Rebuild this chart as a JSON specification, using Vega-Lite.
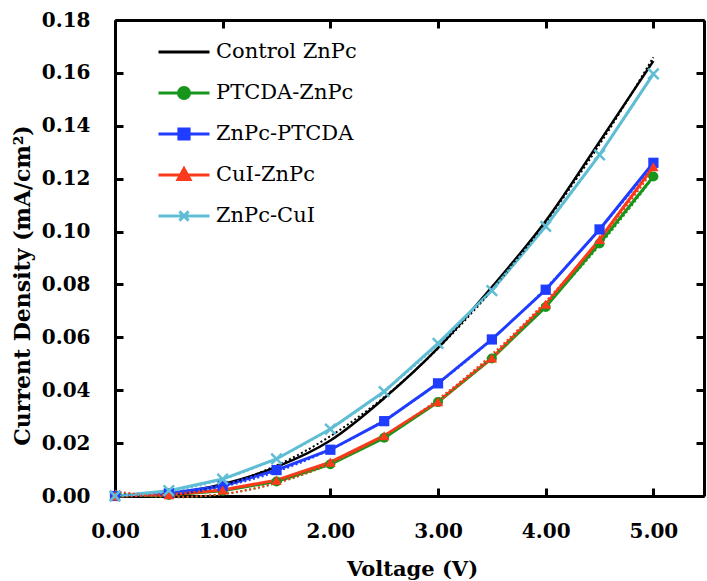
{
  "$schema": "https://vega.github.io/schema/vega-lite/v6.json",
  "width": 589,
  "height": 476,
  "autosize": "none",
  "padding": {"left": 115, "top": 20, "right": 3, "bottom": 85},
  "background": "white",
  "config": {
    "view": {"stroke": null},
    "font": "DejaVu Serif",
    "axis": {
      "grid": false,
      "domainColor": "black",
      "domainWidth": 3,
      "tickColor": "black",
      "tickWidth": 3,
      "tickSize": -8,
      "labelFlush": false,
      "labelColor": "black",
      "titleColor": "black",
      "labelFont": "DejaVu Serif",
      "titleFont": "DejaVu Serif",
      "labelFontWeight": "bold",
      "titleFontWeight": "bold",
      "titleLimit": 1000
    }
  },
  "data": {
    "values": [
      {"series": "Control ZnPc", "voltage": 0.0, "current": 0.0},
      {"series": "Control ZnPc", "voltage": 0.5, "current": 0.001},
      {"series": "Control ZnPc", "voltage": 1.0, "current": 0.0045},
      {"series": "Control ZnPc", "voltage": 1.5, "current": 0.011},
      {"series": "Control ZnPc", "voltage": 2.0, "current": 0.021},
      {"series": "Control ZnPc", "voltage": 2.5, "current": 0.037},
      {"series": "Control ZnPc", "voltage": 3.0, "current": 0.056},
      {"series": "Control ZnPc", "voltage": 3.5, "current": 0.079},
      {"series": "Control ZnPc", "voltage": 4.0, "current": 0.104},
      {"series": "Control ZnPc", "voltage": 4.5, "current": 0.134},
      {"series": "Control ZnPc", "voltage": 5.0, "current": 0.1645},
      {"series": "PTCDA-ZnPc", "voltage": 0.0, "current": 0.0},
      {"series": "PTCDA-ZnPc", "voltage": 0.5, "current": 0.0004},
      {"series": "PTCDA-ZnPc", "voltage": 1.0, "current": 0.002},
      {"series": "PTCDA-ZnPc", "voltage": 1.5, "current": 0.0055},
      {"series": "PTCDA-ZnPc", "voltage": 2.0, "current": 0.012},
      {"series": "PTCDA-ZnPc", "voltage": 2.5, "current": 0.022},
      {"series": "PTCDA-ZnPc", "voltage": 3.0, "current": 0.0355},
      {"series": "PTCDA-ZnPc", "voltage": 3.5, "current": 0.052},
      {"series": "PTCDA-ZnPc", "voltage": 4.0, "current": 0.0715},
      {"series": "PTCDA-ZnPc", "voltage": 4.5, "current": 0.0955},
      {"series": "PTCDA-ZnPc", "voltage": 5.0, "current": 0.1208},
      {"series": "ZnPc-PTCDA", "voltage": 0.0, "current": 0.0},
      {"series": "ZnPc-PTCDA", "voltage": 0.5, "current": 0.001},
      {"series": "ZnPc-PTCDA", "voltage": 1.0, "current": 0.0038},
      {"series": "ZnPc-PTCDA", "voltage": 1.5, "current": 0.0098},
      {"series": "ZnPc-PTCDA", "voltage": 2.0, "current": 0.0175},
      {"series": "ZnPc-PTCDA", "voltage": 2.5, "current": 0.0283},
      {"series": "ZnPc-PTCDA", "voltage": 3.0, "current": 0.0426},
      {"series": "ZnPc-PTCDA", "voltage": 3.5, "current": 0.0592},
      {"series": "ZnPc-PTCDA", "voltage": 4.0, "current": 0.078},
      {"series": "ZnPc-PTCDA", "voltage": 4.5, "current": 0.1008},
      {"series": "ZnPc-PTCDA", "voltage": 5.0, "current": 0.126},
      {"series": "CuI-ZnPc", "voltage": 0.0, "current": 0.0},
      {"series": "CuI-ZnPc", "voltage": 0.5, "current": 0.0005},
      {"series": "CuI-ZnPc", "voltage": 1.0, "current": 0.0023},
      {"series": "CuI-ZnPc", "voltage": 1.5, "current": 0.006},
      {"series": "CuI-ZnPc", "voltage": 2.0, "current": 0.0128},
      {"series": "CuI-ZnPc", "voltage": 2.5, "current": 0.0228},
      {"series": "CuI-ZnPc", "voltage": 3.0, "current": 0.0357},
      {"series": "CuI-ZnPc", "voltage": 3.5, "current": 0.0522},
      {"series": "CuI-ZnPc", "voltage": 4.0, "current": 0.0725},
      {"series": "CuI-ZnPc", "voltage": 4.5, "current": 0.097},
      {"series": "CuI-ZnPc", "voltage": 5.0, "current": 0.1245},
      {"series": "ZnPc-CuI", "voltage": 0.0, "current": 0.0},
      {"series": "ZnPc-CuI", "voltage": 0.5, "current": 0.002},
      {"series": "ZnPc-CuI", "voltage": 1.0, "current": 0.0064},
      {"series": "ZnPc-CuI", "voltage": 1.5, "current": 0.014},
      {"series": "ZnPc-CuI", "voltage": 2.0, "current": 0.0253},
      {"series": "ZnPc-CuI", "voltage": 2.5, "current": 0.0395},
      {"series": "ZnPc-CuI", "voltage": 3.0, "current": 0.0577},
      {"series": "ZnPc-CuI", "voltage": 3.5, "current": 0.0777},
      {"series": "ZnPc-CuI", "voltage": 4.0, "current": 0.102},
      {"series": "ZnPc-CuI", "voltage": 4.5, "current": 0.129},
      {"series": "ZnPc-CuI", "voltage": 5.0, "current": 0.1596}
    ]
  },
  "resolve": {"axis": {"x": "independent", "y": "independent"}},
  "layer": [
    {
      "transform": [{"filter": "datum.series === 'Control ZnPc'"}],
      "mark": {"type": "line", "interpolate": "monotone", "strokeWidth": 2.5},
      "encoding": {
        "x": {
          "field": "voltage", "type": "quantitative",
          "scale": {"domain": [0, 5.47], "nice": false, "zero": false},
          "axis": {
            "orient": "bottom",
            "values": [0, 1, 2, 3, 4, 5],
            "format": ".2f",
            "labelFontSize": 20,
            "labelPadding": 33,
            "title": "Voltage (V)",
            "titleFontSize": 21,
            "titleX": 297,
            "titleY": 79,
            "titleAlign": "center",
            "titleBaseline": "alphabetic"
          }
        },
        "y": {
          "field": "current", "type": "quantitative",
          "scale": {"domain": [0, 0.18], "nice": false, "zero": false},
          "axis": {
            "orient": "left",
            "values": [0, 0.02, 0.04, 0.06, 0.08, 0.1, 0.12, 0.14, 0.16, 0.18],
            "format": ".2f",
            "labelFontSize": 20,
            "labelPadding": 33,
            "title": "Current Density (mA/cm²)",
            "titleFontSize": 22,
            "titleAngle": -90,
            "titleX": -93,
            "titleY": 265,
            "titleAlign": "center",
            "titleBaseline": "middle"
          }
        },
        "color": {
          "field": "series", "type": "nominal",
          "scale": {
            "domain": ["Control ZnPc", "PTCDA-ZnPc", "ZnPc-PTCDA", "CuI-ZnPc", "ZnPc-CuI"],
            "range": ["#000000", "#16961a", "#1f3cff", "#fa3a1a", "#5fbdd4"]
          },
          "legend": {
            "orient": "none",
            "legendX": 42,
            "legendY": 11.5,
            "title": null,
            "padding": 0,
            "rowPadding": 0,
            "clipHeight": 41,
            "symbolSize": 2601,
            "symbolOffset": 0,
            "symbolStrokeWidth": 3,
            "labelFont": "DejaVu Serif",
            "labelFontSize": 21,
            "labelFontWeight": "normal",
            "labelColor": "black",
            "labelOffset": 5,
            "labelLimit": 400,
            "encode": {
              "symbols": {
                "update": {
                  "shape": {"signal": "datum.value === 'PTCDA-ZnPc' ? 'M-1,0H1M0.216,0A0.216,0.216,0,1,1,-0.216,0A0.216,0.216,0,1,1,0.216,0Z' : datum.value === 'ZnPc-PTCDA' ? 'M-1,0H1M-0.2,-0.2H0.2V0.2H-0.2Z' : datum.value === 'CuI-ZnPc' ? 'M-1,0H1M0,-0.25L0.235,0.18H-0.235Z' : datum.value === 'ZnPc-CuI' ? 'M-1,0H1M-0.18,-0.18L0.18,0.18M-0.18,0.18L0.18,-0.18' : 'M-1,0H1'"},
                  "fill": {"signal": "scale('color', datum.value)"},
                  "stroke": {"signal": "scale('color', datum.value)"},
                  "fillOpacity": {"value": 1},
                  "strokeOpacity": {"value": 1},
                  "strokeWidth": {"value": 3}
                }
              }
            }
          }
        }
      }
    },
    {
      "transform": [{"filter": "datum.series !== 'Control ZnPc'"}],
      "mark": {"type": "line", "strokeWidth": 3},
      "encoding": {
        "x": {"field": "voltage", "type": "quantitative", "axis": null},
        "y": {"field": "current", "type": "quantitative", "axis": null},
        "color": {"field": "series", "type": "nominal", "legend": null}
      }
    },
    {
      "transform": [
        {"regression": "current", "on": "voltage", "groupby": ["series"], "method": "poly", "order": 2, "extent": [0, 5]}
      ],
      "mark": {"type": "line", "strokeWidth": 2, "strokeDash": [2, 2.5]},
      "encoding": {
        "x": {"field": "voltage", "type": "quantitative", "axis": null},
        "y": {"field": "current", "type": "quantitative", "axis": null},
        "color": {"field": "series", "type": "nominal", "legend": null}
      }
    },
    {
      "transform": [{"filter": "datum.series === 'PTCDA-ZnPc' || datum.series === 'ZnPc-PTCDA' || datum.series === 'CuI-ZnPc'"}],
      "mark": {"type": "point", "filled": true, "opacity": 1},
      "encoding": {
        "x": {"field": "voltage", "type": "quantitative", "axis": null},
        "y": {"field": "current", "type": "quantitative", "axis": null},
        "color": {"field": "series", "type": "nominal", "legend": null},
        "shape": {
          "field": "series", "type": "nominal", "legend": null,
          "scale": {"domain": ["PTCDA-ZnPc", "ZnPc-PTCDA", "CuI-ZnPc"], "range": ["circle", "square", "triangle-up"]}
        },
        "size": {
          "field": "series", "type": "nominal", "legend": null,
          "scale": {"domain": ["PTCDA-ZnPc", "ZnPc-PTCDA", "CuI-ZnPc"], "range": [100, 110, 110]}
        }
      }
    },
    {
      "transform": [{"filter": "datum.series === 'ZnPc-CuI'"}],
      "mark": {"type": "point", "filled": false, "shape": "M-1,-1L1,1M-1,1L1,-1", "size": 110, "strokeWidth": 2.5, "opacity": 1},
      "encoding": {
        "x": {"field": "voltage", "type": "quantitative", "axis": null},
        "y": {"field": "current", "type": "quantitative", "axis": null},
        "color": {"field": "series", "type": "nominal", "legend": null}
      }
    },
    {
      "mark": {"type": "point", "opacity": 0},
      "encoding": {
        "x": {
          "field": "voltage", "type": "quantitative",
          "axis": {"orient": "top", "values": [0, 1, 2, 3, 4, 5], "labels": false, "title": null}
        },
        "y": {
          "field": "current", "type": "quantitative",
          "axis": {"orient": "right", "values": [0, 0.02, 0.04, 0.06, 0.08, 0.1, 0.12, 0.14, 0.16, 0.18], "labels": false, "title": null}
        }
      }
    }
  ]
}
